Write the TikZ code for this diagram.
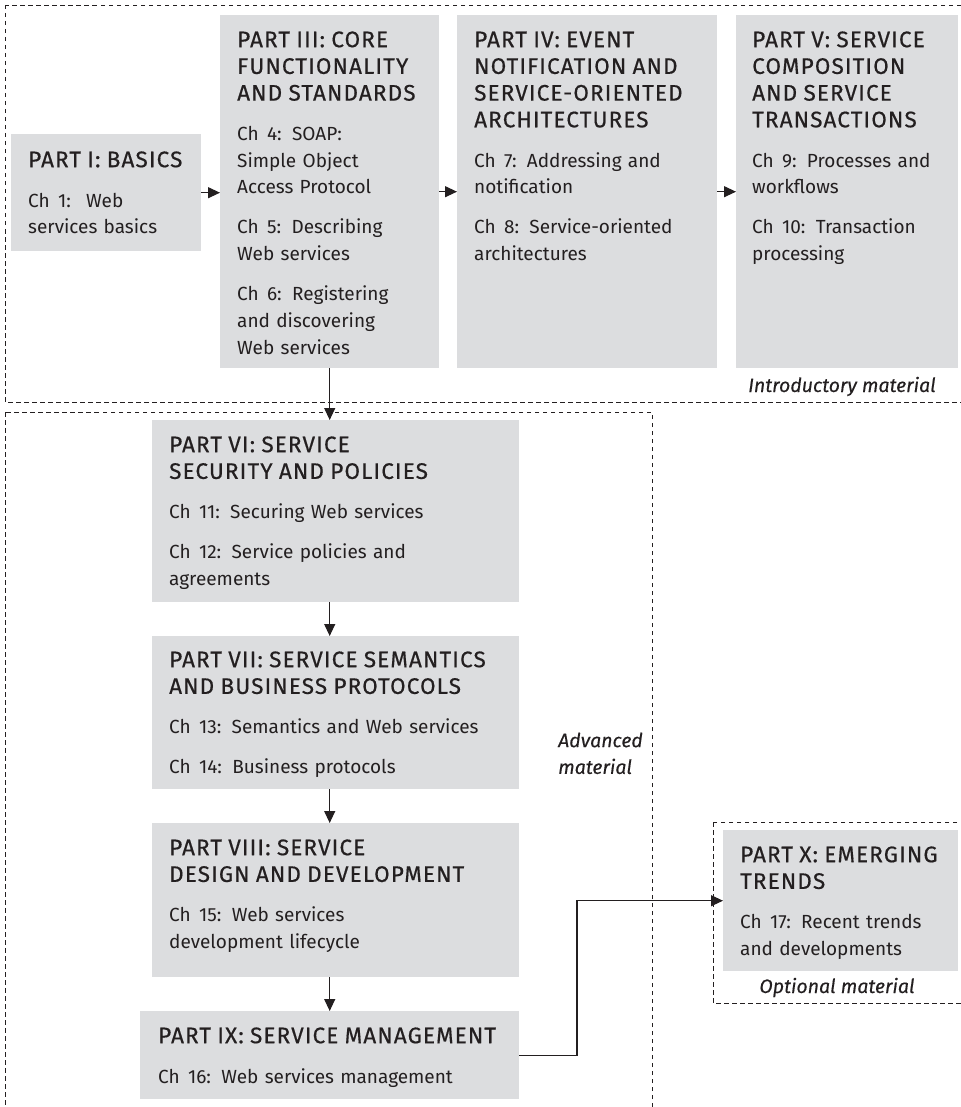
\documentclass[tikz,border=0pt]{standalone}
\usepackage{fontspec}
\setmainfont{Fira Sans}
\newfontfamily\headfamily{Fira Sans}[FakeBold=0.5,LetterSpace=5]
\newfontfamily\zonefamily{Fira Sans}[FakeBold=0.3]
\usetikzlibrary{arrows.meta}

\definecolor{boxgrey}{RGB}{220,221,223}
\definecolor{ink}{RGB}{35,31,32}

% type sizes: chapter lines, part headings, zone captions
\newcommand\bodytype{\frenchspacing\fontsize{19pt}{26.7pt}\selectfont}
\newcommand\hd{\headfamily\fontsize{22.5pt}{26.7pt}\selectfont}
\newcommand\zonetype{\zonefamily\itshape\fontsize{19.5pt}{26.7pt}\selectfont}
% chapter prefix with the wider spacing of the chapter lines
\newcommand\chlabel[1]{Ch\ \kern2pt#1:\ \kern4pt}
% invisible strut that fixes the first baseline below the top of a text block
\newcommand\leadgap[1]{\rule{0pt}{#1pt}}
\newcommand\pargap{\\[13.3pt]}

\tikzset{
  partbox/.style={fill=boxgrey, draw=none, inner sep=0pt, anchor=north west},
  parttext/.style={anchor=north west, inner sep=0pt, align=left, text=ink,
                   font=\bodytype, text width=#1},
  zone/.style={draw=ink, line width=0.9pt, dash pattern=on 4.5pt off 3.5pt},
  arrow/.style={draw=ink, line width=1.2pt, -{Triangle[length=12pt,width=11pt]}},
  zonelabel/.style={font=\zonetype, text=ink, inner sep=0pt}
}

\begin{document}
\begin{tikzpicture}[x=1pt, y=-1pt]
\useasboundingbox (0,0) rectangle (960,1107);

% dashed zones
\draw[zone] (5,5) rectangle (970,402);
\draw[zone] (5,412) rectangle (652,1120);
\draw[zone] (713,822) rectangle (970,1003);

% part boxes
\node[partbox, minimum width=190pt, minimum height=117pt] (p1) at (11,134) {};
\node[partbox, minimum width=219pt, minimum height=353pt] (p3) at (220,15) {};
\node[partbox, minimum width=260pt, minimum height=353pt] (p4) at (457,15) {};
\node[partbox, minimum width=222pt, minimum height=353pt] (p5) at (736,15) {};
\node[partbox, minimum width=367pt, minimum height=182pt] (p6) at (152,420) {};
\node[partbox, minimum width=367pt, minimum height=153pt] (p7) at (152,636) {};
\node[partbox, minimum width=367pt, minimum height=154pt] (p8) at (152,823) {};
\node[partbox, minimum width=379pt, minimum height=88pt]  (p9) at (140,1011) {};
\node[partbox, minimum width=235pt, minimum height=141pt] (p10) at (723,830) {};

% box contents
\node[parttext=172pt, xshift=17pt] (p1t) at (p1.north west)
  {\leadgap{33}{\hd PART I: BASICS}\pargap \chlabel{1}\kern5pt Web\\services basics};
\node[parttext=200pt, xshift=17pt] (p3t) at (p3.north west)
  {\leadgap{32}{\hd PART III: CORE\\FUNCTIONALITY\\AND STANDARDS}\pargap
   \chlabel{4}SOAP:\\Simple Object\\Access Protocol\pargap
   \chlabel{5}Describing\\Web services\pargap
   \chlabel{6}Registering\\and discovering\\Web services};
\node[parttext=240pt, xshift=17pt] (p4t) at (p4.north west)
  {\leadgap{32}{\hd PART IV: EVENT\\NOTIFICATION AND\\SERVICE-ORIENTED\\ARCHITECTURES}\pargap
   \chlabel{7}Addressing and\\notification\pargap
   \chlabel{8}Service-oriented\\architectures};
\node[parttext=205pt, xshift=16pt] (p5t) at (p5.north west)
  {\leadgap{32}{\hd PART V: SERVICE\\COMPOSITION\\AND SERVICE\\TRANSACTIONS}\pargap
   \chlabel{9}Processes and\\workflows\pargap
   \chlabel{10}Transaction\\processing};
\node[parttext=345pt, xshift=17pt] (p6t) at (p6.north west)
  {\leadgap{32}{\hd PART VI: SERVICE\\SECURITY AND POLICIES}\pargap
   \chlabel{11}Securing Web services\pargap
   \chlabel{12}Service policies and\\agreements};
\node[parttext=345pt, xshift=17pt] (p7t) at (p7.north west)
  {\leadgap{31}{\hd PART VII: SERVICE SEMANTICS\\AND BUSINESS PROTOCOLS}\pargap
   \chlabel{13}Semantics and Web services\pargap
   \chlabel{14}Business protocols};
\node[parttext=345pt, xshift=17pt] (p8t) at (p8.north west)
  {\leadgap{32}{\hd PART VIII: SERVICE\\DESIGN AND DEVELOPMENT}\pargap
   \chlabel{15}Web services\\development lifecycle};
\node[parttext=360pt, xshift=18pt] (p9t) at (p9.north west)
  {\leadgap{32}{\hd PART IX: SERVICE MANAGEMENT}\pargap
   \chlabel{16}Web services management};
\node[parttext=218pt, xshift=17pt] (p10t) at (p10.north west)
  {\leadgap{32}{\hd PART X: EMERGING\\TRENDS}\pargap
   \chlabel{17}Recent trends\\and developments};

% zone captions
\node[zonelabel, anchor=base] (introlabel) at (842,392) {Introductory material};
\node[zonelabel, anchor=north west, align=left, text width=100pt] (advlabel) at (558,720)
  {\leadgap{27}Advanced\\material};
\node[zonelabel, anchor=base] (optlabel) at (837,993) {Optional material};

% reading order
\draw[arrow] (p1.east) -- (p1.east -| p3.west);
\draw[arrow] (p3) -- (p4);
\draw[arrow] (p4) -- (p5);
\draw[arrow] (p3.south) -- (p3.south |- p6.north);
\draw[arrow] (p6.south -| p3.south) -- (p7.north -| p3.south);
\draw[arrow] (p7.south -| p3.south) -- (p8.north -| p3.south);
\draw[arrow] (p8.south -| p3.south) -- (p9.north -| p3.south);
\coordinate (elbow) at (577,980);
\draw[arrow] (p9.east) -| (elbow) |- (p10.west);
\end{tikzpicture}
\end{document}
